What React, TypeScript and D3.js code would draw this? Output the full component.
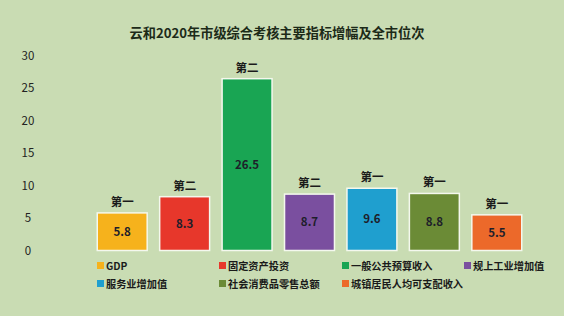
import { useRef, useEffect } from 'react';
import * as d3 from 'd3';

const categories = ['GDP', '固定资产投资', '一般公共预算收入', '规上工业增加值', '服务业增加值', '社会消费品零售总额', '城镇居民人均可支配收入'];
const values = [5.8, 8.3, 26.5, 8.7, 9.6, 8.8, 5.5];
const ranks = ['第一', '第二', '第二', '第二', '第一', '第一', '第一'];
const colors = ['#f6b21c', '#e7372b', '#19a553', '#7a4f9f', '#1f9fcf', '#6b8b36', '#ec692a'];
const yTicks = [0, 5, 10, 15, 20, 25, 30];

const W = 564;
const H = 316;
const FONT = '"Noto Sans CJK SC", "Noto Sans", sans-serif';

const App = () => {
  const svgRef = useRef<SVGSVGElement | null>(null);

  useEffect(() => {
    const svg = d3.select(svgRef.current);
    svg.selectAll('*').remove();

    svg.append('rect').attr('width', W).attr('height', H).attr('fill', '#c9dcb3');

    const x = d3.scaleBand<string>()
      .domain(categories)
      .range([91, 528])
      .paddingInner(0.2)
      .paddingOuter(0.1);

    const y = d3.scaleLinear().domain([0, 30]).range([250.5, 56]);

    svg.append('text')
      .attr('x', 277)
      .attr('y', 38)
      .attr('text-anchor', 'middle')
      .style('font-family', FONT)
      .style('font-weight', 'bold')
      .style('font-size', '13.2px')
      .attr('fill', '#1c2a18')
      .text('云和2020年市级综合考核主要指标增幅及全市位次');

    svg.append('g')
      .selectAll('text')
      .data(yTicks)
      .enter()
      .append('text')
      .attr('x', 28)
      .attr('y', d => y(d) + 4)
      .attr('text-anchor', 'middle')
      .style('font-family', FONT)
      .style('font-size', '11.5px')
      .attr('fill', '#222')
      .text(d => d);

    const bars = svg.append('g').selectAll('g').data(categories).enter().append('g');

    bars.append('rect')
      .attr('x', d => x(d) as number)
      .attr('y', (d, i) => y(values[i]))
      .attr('width', x.bandwidth())
      .attr('height', (d, i) => y(0) - y(values[i]))
      .attr('fill', (d, i) => colors[i])
      .attr('stroke', '#f4f8ee')
      .attr('stroke-width', 1.5);

    bars.append('text')
      .attr('x', d => (x(d) as number) + x.bandwidth() / 2)
      .attr('y', (d, i) => (y(values[i]) + y(0)) / 2 + 4)
      .attr('text-anchor', 'middle')
      .style('font-family', FONT)
      .style('font-weight', 'bold')
      .style('font-size', '11.5px')
      .attr('fill', '#1e1e2a')
      .text((d, i) => values[i].toFixed(1));

    bars.append('text')
      .attr('x', d => (x(d) as number) + x.bandwidth() / 2)
      .attr('y', (d, i) => y(values[i]) - 7)
      .attr('text-anchor', 'middle')
      .style('font-family', FONT)
      .style('font-weight', 'bold')
      .style('font-size', '11.5px')
      .attr('fill', '#1a1a1a')
      .text((d, i) => ranks[i]);

    const legendX = [97, 219, 342, 464];
    const legend = svg.append('g').selectAll('g').data(categories).enter().append('g')
      .attr('transform', (d, i) => `translate(${legendX[i % 4]},${i < 4 ? 266 : 284})`);

    legend.append('rect')
      .attr('x', 0)
      .attr('y', -4)
      .attr('width', 7)
      .attr('height', 7)
      .attr('fill', (d, i) => colors[i]);

    legend.append('text')
      .attr('x', 9)
      .attr('y', 4)
      .style('font-family', FONT)
      .style('font-weight', 'bold')
      .style('font-size', '10.2px')
      .attr('fill', '#1a1a1a')
      .text(d => d);
  }, []);

  return (
    <svg ref={svgRef} width={W} height={H} style={{ position: 'absolute', left: 0, top: 0 }}></svg>
  );
};

export default App;
